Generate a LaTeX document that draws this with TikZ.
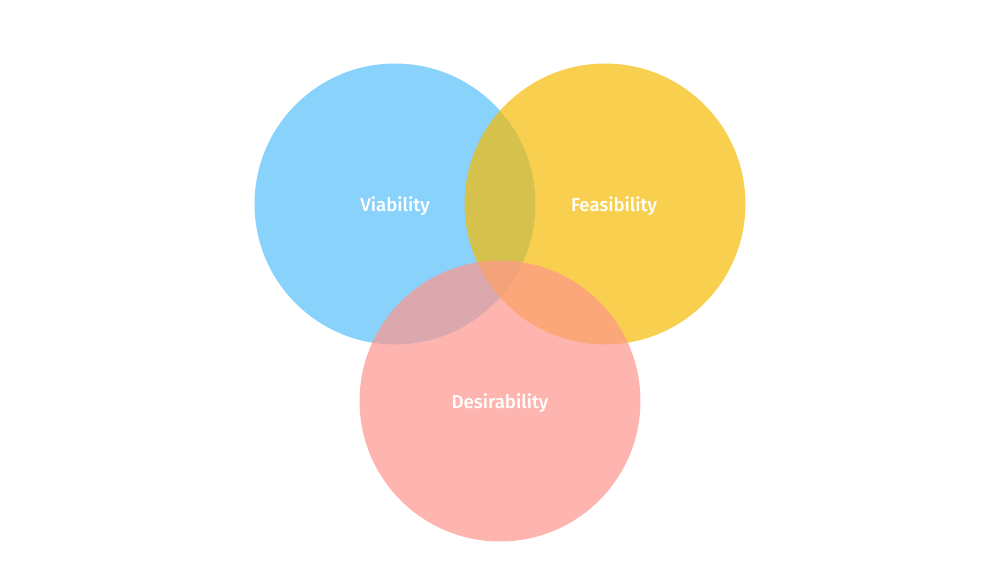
\documentclass[tikz,border=0pt]{standalone}
\usepackage{fontspec}
\setmainfont{Fira Sans}
\newfontfamily\labelfont{Fira Sans Medium}
\definecolor{vblue}{RGB}{88,192,251}
\definecolor{fyellow}{RGB}{246,188,4}
\definecolor{dpink}{RGB}{255,151,142}
\begin{document}
\begin{tikzpicture}[x=0.02cm,y=-0.02cm,
  venn/.style={circle,minimum size=5.62cm,inner sep=0pt,fill opacity=0.7},
  vlabel/.style={text=white,font=\labelfont\fontsize{10.6}{13}\selectfont},
]
\useasboundingbox (0,0) rectangle (1000,562);
\fill[white] (0,0) rectangle (1000,562);
\node[venn,fill=vblue] (via) at (395,204) {};
\node[venn,fill=fyellow] (fea) at (605,204) {};
\node[venn,fill=dpink] (des) at (500,401) {};
\node[vlabel] (tvia) at (395,206) {Viability};
\node[vlabel] (tfea) at (614,206) {Feasibility};
\node[vlabel] (tdes) at (500,403) {Desirability};
\end{tikzpicture}
\end{document}
